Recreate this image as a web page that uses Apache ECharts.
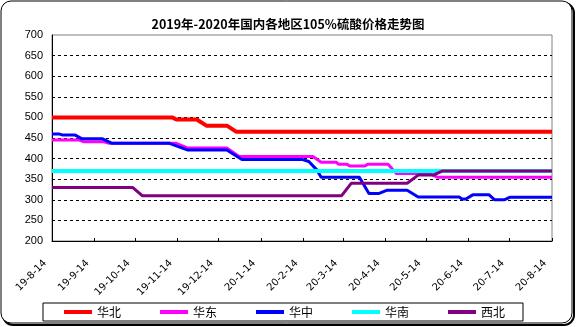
<!DOCTYPE html>
<html>
<head>
<meta charset="utf-8">
<script src="https://cdn.jsdelivr.net/npm/echarts@6/dist/echarts.min.js"></script>
<style>
  html, body { margin: 0; padding: 0; background: #fff; }
  #chart { width: 576px; height: 327px; }
</style>
</head>
<body>
<div id="chart"></div>
<script>
// Regions shown in the legend, in drawing order
const regions = ['华北', '华东', '华中', '华南', '西北'];
const regionColors = ['#FF0000', '#FF00FF', '#0000FF', '#00FFFF', '#800080'];

// Monthly reference dates for ticks and labels
const monthTicks = [
  '2019-08-14', '2019-09-14', '2019-10-14', '2019-11-14', '2019-12-14',
  '2020-01-14', '2020-02-14', '2020-03-14', '2020-04-14', '2020-05-14',
  '2020-06-14', '2020-07-14', '2020-08-14'
];

// Price points (元/吨) at each change, per region
const huabei = [
  ['2019-08-14', 500], ['2019-11-10', 500], ['2019-11-13', 495], ['2019-11-28', 495],
  ['2019-12-05', 480], ['2019-12-20', 480], ['2019-12-27', 465], ['2020-08-14', 465]
];
const huadong = [
  ['2019-08-14', 445], ['2019-09-03', 445], ['2019-09-06', 441], ['2019-09-21', 441],
  ['2019-09-25', 437], ['2019-11-13', 437], ['2019-11-21', 426], ['2019-12-20', 426],
  ['2019-12-29', 405], ['2020-02-21', 405], ['2020-02-27', 391], ['2020-03-09', 391],
  ['2020-03-11', 386], ['2020-03-17', 386], ['2020-03-19', 382], ['2020-03-30', 382],
  ['2020-04-01', 386], ['2020-04-16', 386], ['2020-04-22', 364], ['2020-05-16', 364],
  ['2020-05-22', 355], ['2020-08-14', 355]
];
const huazhong = [
  ['2019-08-14', 460], ['2019-08-19', 460], ['2019-08-22', 457], ['2019-08-31', 457],
  ['2019-09-05', 448], ['2019-09-20', 448], ['2019-09-27', 437], ['2019-11-08', 437],
  ['2019-11-21', 421], ['2019-12-20', 421], ['2019-12-31', 398], ['2020-02-13', 398],
  ['2020-02-18', 393], ['2020-02-24', 372], ['2020-02-27', 355], ['2020-03-26', 355],
  ['2020-04-02', 315], ['2020-04-09', 315], ['2020-04-15', 323], ['2020-04-30', 323],
  ['2020-05-08', 307], ['2020-06-07', 307], ['2020-06-09', 302], ['2020-06-12', 302],
  ['2020-06-17', 312], ['2020-06-29', 312], ['2020-07-03', 300], ['2020-07-10', 300],
  ['2020-07-14', 306], ['2020-08-14', 306]
];
const huanan = [
  ['2019-08-14', 370], ['2020-08-14', 370]
];
const xibei = [
  ['2019-08-14', 330], ['2019-10-12', 330], ['2019-10-19', 310], ['2020-03-13', 310],
  ['2020-03-20', 340], ['2020-04-30', 340], ['2020-05-08', 360], ['2020-05-19', 360],
  ['2020-05-26', 370], ['2020-08-14', 370]
];

// Price axis
const priceMin = 200, priceMax = 700, priceStep = 50;

// Dates are placed on a day-count axis starting at the first month tick
function dayUTC(s) {
  const p = s.split('-').map(Number);
  return Date.UTC(p[0], p[1] - 1, p[2]) / 86400000;
}
const day0 = dayUTC(monthTicks[0]);
function dayIndex(s) { return Math.round(dayUTC(s) - day0); }
function toPoints(list) { return list.map(d => [dayIndex(d[0]), d[1]]); }
function shortDate(s) {
  const p = s.split('-').map(Number);
  return String(p[0]).slice(2) + '-' + p[1] + '-' + p[2];
}

const seriesData = [huabei, huadong, huazhong, huanan, xibei];
const lineWidths = [4, 3, 3, 4, 3];
const tickDays = monthTicks.map(dayIndex);
// trailing spaces pull each slanted label a little down-left of its tick
const tickLabelByDay = {};
monthTicks.forEach(s => { tickLabelByDay[dayIndex(s)] = shortDate(s) + '   '; });

const chart = echarts.init(document.getElementById('chart'), null, { renderer: 'canvas' });

chart.setOption({
  backgroundColor: '#ffffff',
  animation: false,
  title: {
    text: '2019年-2020年国内各地区105%硫酸价格走势图',
    left: 'center',
    top: 13,
    textStyle: {
      fontFamily: 'Noto Sans CJK SC',
      fontSize: 12.5,
      fontWeight: 'bold',
      color: '#000'
    }
  },
  graphic: [
    {
      type: 'rect', z: -10, silent: true,
      shape: { x: 3, y: 3, width: 571, height: 322, r: 10 },
      style: { fill: 'none', stroke: '#000', lineWidth: 2 }
    },
    {
      type: 'rect', z: -9, silent: true,
      shape: { x: 1, y: 1, width: 571, height: 322, r: 10 },
      style: { fill: '#fff', stroke: '#000', lineWidth: 1 }
    }
  ],
  legend: {
    left: 43,
    top: 303,
    icon: 'rect',
    itemWidth: 28,
    itemHeight: 4,
    itemGap: 39,
    padding: [3, 18, 3, 21],
    borderColor: '#000',
    borderWidth: 1,
    textStyle: { fontFamily: 'Noto Sans CJK SC', fontSize: 12, color: '#000' },
    data: regions
  },
  grid: {
    left: 52, right: 24, top: 35, bottom: 86,
    show: true,
    borderColor: '#808080',
    borderWidth: 1,
    backgroundColor: 'transparent'
  },
  xAxis: {
    type: 'value',
    min: tickDays[0],
    max: tickDays[tickDays.length - 1],
    axisLine: { show: true, onZero: false, lineStyle: { color: '#000', width: 1 } },
    axisTick: {
      show: true, inside: true, length: 3,
      customValues: tickDays,
      lineStyle: { color: '#000' }
    },
    splitLine: { show: false },
    axisLabel: {
      customValues: tickDays,
      rotate: 45,
      margin: 14,
      fontFamily: 'DejaVu Sans',
      fontSize: 10,
      color: '#000',
      formatter: v => tickLabelByDay[Math.round(v)] || ''
    }
  },
  yAxis: {
    type: 'value',
    min: priceMin,
    max: priceMax,
    interval: priceStep,
    axisLine: { show: true, lineStyle: { color: '#000', width: 1 } },
    axisTick: { show: false },
    axisLabel: {
      margin: 9,
      fontFamily: 'Liberation Sans',
      fontSize: 11,
      color: '#000'
    },
    splitLine: {
      show: true,
      showMinLine: false,
      showMaxLine: false,
      lineStyle: { color: '#000', type: [3, 3], width: 1 }
    }
  },
  series: regions.map((name, i) => ({
    name: name,
    type: 'line',
    data: toPoints(seriesData[i]),
    showSymbol: false,
    symbol: 'none',
    color: regionColors[i],
    lineStyle: { color: regionColors[i], width: lineWidths[i] },
    emphasis: { disabled: true }
  }))
});
</script>
</body>
</html>
